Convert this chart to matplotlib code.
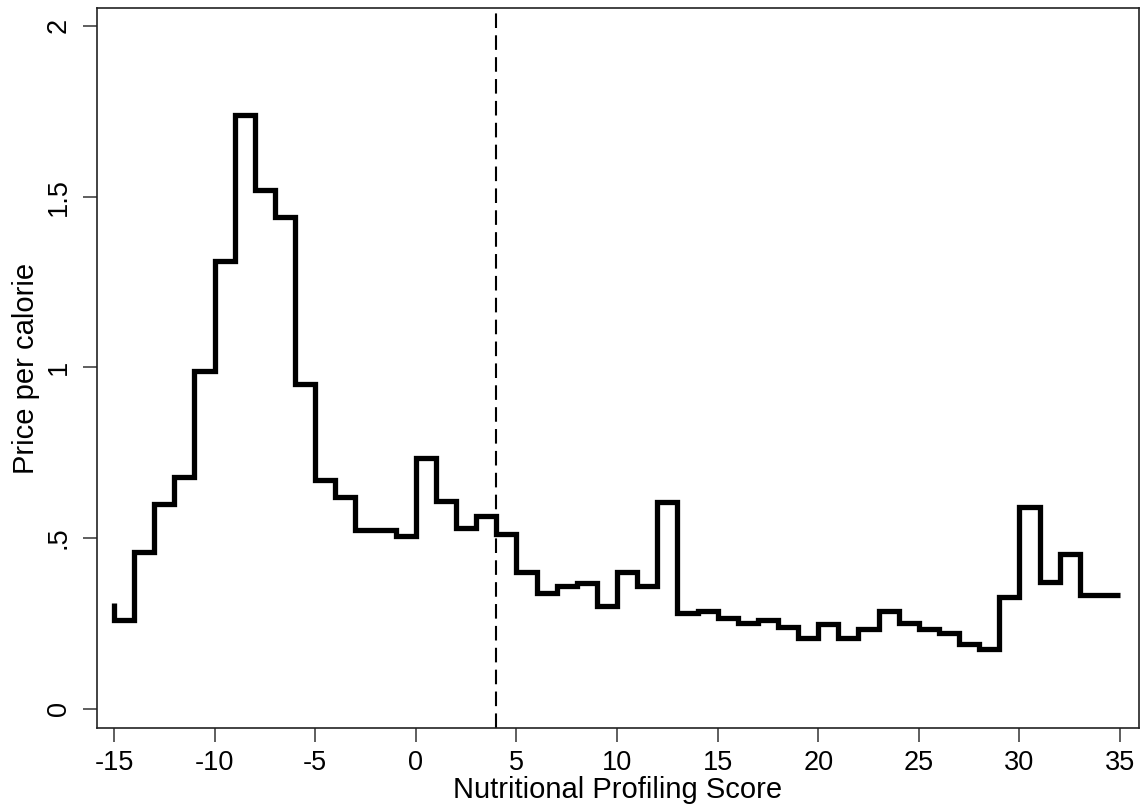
import matplotlib
matplotlib.use('Agg')
import matplotlib.pyplot as plt
from matplotlib.ticker import FuncFormatter

plt.rcParams['font.family'] = ['Liberation Sans', 'DejaVu Sans']
plt.rcParams['axes.unicode_minus'] = False

# score grid, one point per integer, steps drawn "pre"
score = list(range(-15, 36))
price = [0.31, 0.26, 0.46, 0.60, 0.68, 0.99, 1.31, 1.74, 1.52, 1.44,
         0.95, 0.67, 0.62, 0.525, 0.525, 0.505, 0.735, 0.61, 0.53, 0.565,
         0.512, 0.40, 0.338, 0.36, 0.368, 0.30, 0.40, 0.36, 0.605, 0.28,
         0.288, 0.267, 0.252, 0.26, 0.241, 0.207, 0.249, 0.207, 0.234, 0.287,
         0.252, 0.234, 0.221, 0.189, 0.174, 0.327, 0.592, 0.373, 0.453, 0.333,
         0.333]
cutoff = 4

xticks = list(range(-15, 40, 5))
yticks = [0, 0.5, 1, 1.5, 2]


def stata_fmt(v, pos):
    s = ('%g' % v)
    if s.startswith('0.'):
        s = s[1:]
    return s


fig = plt.figure(figsize=(11.45, 8.09), dpi=100)
ax = fig.add_axes([0.0847, 0.1001, 0.9101, 0.8899])

ax.plot(score, price, drawstyle='steps-pre', color='black', lw=3.8,
        solid_joinstyle='miter', solid_capstyle='butt')
ax.axvline(cutoff, color='black', lw=1.5, dashes=(7, 3.5))

ax.set_xlim(-15.845, 35.944)
ax.set_ylim(-0.056, 2.052)
ax.set_xticks(xticks)
ax.set_yticks(yticks)
ax.yaxis.set_major_formatter(FuncFormatter(stata_fmt))
ax.tick_params(axis='both', length=10, width=1.1, labelsize=19.5, color='#333333')
ax.tick_params(axis='x', pad=6)
ax.tick_params(axis='y', pad=8)
for lab in ax.get_yticklabels():
    lab.set_rotation(90)
    lab.set_va('center')

for sp in ax.spines.values():
    sp.set_linewidth(1.2)
    sp.set_color('#222222')

ax.set_xlabel('Nutritional Profiling Score', fontsize=21, labelpad=0)
ax.set_ylabel('Price per calorie', fontsize=21, labelpad=4)

fig.savefig('out.png', dpi=100)
